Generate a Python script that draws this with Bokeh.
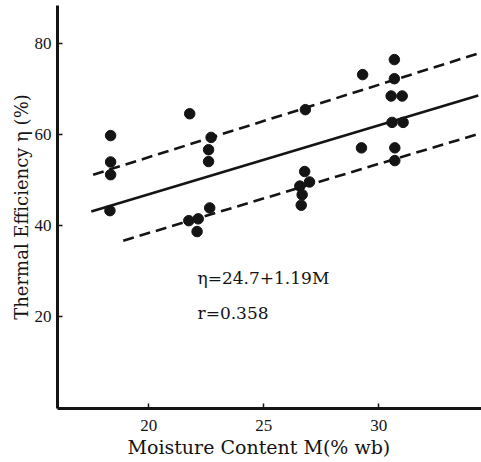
from bokeh.plotting import figure
from bokeh.models import Range1d, Label, FixedTicker, Title
from bokeh.embed import file_html
from bokeh.resources import INLINE

# Moisture content M (% wb) and thermal efficiency (%) of the observations
moisture = [18.34, 18.34, 18.34, 18.31,
            21.78, 22.71, 22.60, 22.60, 22.65, 21.74, 22.15, 22.10,
            26.81, 26.78, 26.99, 26.57, 26.67, 26.63,
            30.68, 29.30, 30.68, 30.54, 31.02, 30.58, 31.06, 29.25, 30.70, 30.70]
efficiency = [59.7, 53.9, 51.1, 43.2,
              64.5, 59.3, 56.6, 54.0, 43.8, 41.0, 41.4, 38.6,
              65.4, 51.8, 49.5, 48.6, 46.7, 44.4,
              76.4, 73.1, 72.2, 68.4, 68.4, 62.6, 62.6, 57.0, 57.0, 54.2]

# Regression line and the two dashed limit lines as drawn in the figure
fit_x = [17.50, 34.33]
fit_y = [43.0, 68.5]
upper_x = [17.58, 34.30]
upper_y = [51.1, 77.7]
lower_x = [18.89, 34.23]
lower_y = [36.6, 59.9]

x_ticks = [20, 25, 30]
y_ticks = [20, 40, 60, 80]

equation_text = "η=24.7+1.19M"
r_text = "r=0.358"
x_title = "Moisture Content M(% wb)"
y_title = "Thermal Efficiency η (%)"

ink = "#141414"
serif = "DejaVu Serif"

p = figure(width=481, height=462, output_backend="svg", toolbar_location=None,
           x_range=Range1d(16.03, 34.47), y_range=Range1d(-0.29, 88.29),
           min_border_left=57, min_border_right=0, min_border_top=5,
           min_border_bottom=54)
p.outline_line_color = None
p.grid.visible = False
p.background_fill_color = "white"
p.border_fill_color = "white"

for ax in (p.xaxis[0], p.yaxis[0]):
    ax.axis_line_width = 3
    ax.axis_line_color = ink
    ax.major_tick_line_color = ink
    ax.major_tick_line_width = 1.5
    ax.major_tick_in = 5
    ax.major_tick_out = 0
    ax.minor_tick_line_color = None
    ax.major_label_text_font = "Liberation Serif"
    ax.major_label_text_font_size = "17px"
    ax.major_label_text_color = ink

p.xaxis[0].ticker = FixedTicker(ticks=x_ticks)
p.yaxis[0].ticker = FixedTicker(ticks=y_ticks)
p.xaxis[0].major_label_standoff = 11
p.yaxis[0].major_label_standoff = 6

p.line(upper_x, upper_y, line_color=ink, line_width=2.6, line_dash="11 6")
p.line(lower_x, lower_y, line_color=ink, line_width=2.6, line_dash="11 6")
p.line(fit_x, fit_y, line_color=ink, line_width=2.6)
p.scatter(moisture, efficiency, size=10.5, fill_color=ink, line_color=ink)

p.add_layout(Label(x=22.12, y=28.5, text=equation_text, text_font=serif,
                   text_font_size="17px", text_color=ink,
                   text_baseline="alphabetic"))
p.add_layout(Label(x=22.12, y=20.8, text=r_text, text_font=serif,
                   text_font_size="17px", text_color=ink,
                   text_baseline="alphabetic"))

p.add_layout(Title(text=x_title, text_font=serif, text_font_size="19px",
                   text_font_style="normal", text_color=ink, align="left",
                   offset=70, standoff=0), "below")
p.add_layout(Title(text=y_title, text_font=serif, text_font_size="18px",
                   text_font_style="normal", text_color=ink, align="center",
                   offset=19, standoff=0), "left")

open("out.html", "w").write(file_html(p, INLINE))
